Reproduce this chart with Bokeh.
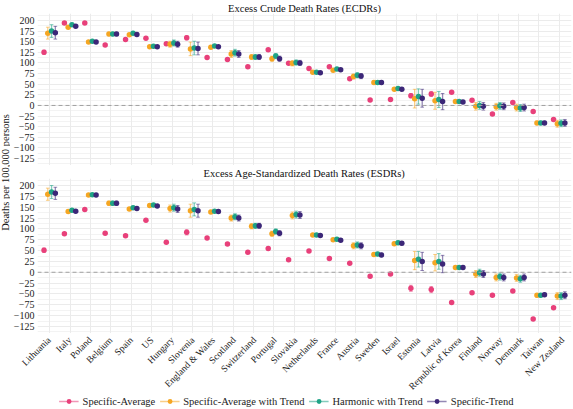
import math
from bokeh.plotting import figure
from bokeh.models import Range1d, FixedTicker, ColumnDataSource, Legend, LegendItem, Span, Grid
from bokeh.layouts import row, column
from bokeh.embed import file_html
from bokeh.resources import INLINE
from bokeh.core.properties import value

countries = ["Lithuania", "Italy", "Poland", "Belgium", "Spain", "US", "Hungary", "Slovenia",
             "England & Wales", "Scotland", "Switzerland", "Portugal", "Slovakia", "Netherlands",
             "France", "Austria", "Sweden", "Israel", "Estonia", "Latvia", "Republic of Korea",
             "Finland", "Norway", "Denmark", "Taiwan", "New Zealand"]

series_names = ["Specific-Average", "Specific-Average with Trend", "Harmonic with Trend", "Specific-Trend"]

# Excess Crude Death Rates (points and half-widths of intervals)
ecdr_sa = [125, 194, 194, 142, 155, 158, 145, 159, 113, 108, 91, 131, 99, 87, 91, 63, 13, 14, 23, 27, 31, 12, -20, 7, -14, -33]
ecdr_sat = [170, 184, 149, 168, 166, 138, 144, 133, 137, 121, 114, 110, 99, 78, 83, 68, 54, 38, 16, 11, 9, -2, -3, -5, -41, -43]
ecdr_ht = [175, 190, 151, 168, 170, 139, 147, 135, 140, 124, 114, 116, 101, 78, 86, 71, 54, 40, 21, 14, 9, 0, -1, -6, -41, -42]
ecdr_st = [171, 186, 149, 168, 167, 138, 144, 134, 138, 121, 114, 110, 100, 77, 84, 69, 54, 38, 17, 9, 8, -2, -2, -5, -41, -41]
ecdr_sa_err = [5, 2, 2, 2, 2, 2, 3, 5, 2, 2, 2, 3, 2, 2, 2, 2, 2, 2, 5, 6, 2, 2, 2, 2, 2, 2]
ecdr_sat_err = [14, 3, 3, 4, 3, 3, 7, 16, 3, 8, 6, 6, 6, 3, 3, 6, 4, 3, 22, 20, 3, 9, 8, 8, 4, 8]
ecdr_ht_err = [15, 3, 3, 4, 3, 3, 7, 16, 3, 8, 6, 6, 6, 3, 3, 6, 4, 3, 18, 19, 3, 9, 8, 8, 4, 8]
ecdr_st_err = [15, 3, 3, 4, 3, 3, 7, 15, 3, 8, 6, 6, 6, 3, 3, 6, 4, 3, 21, 19, 3, 9, 8, 8, 4, 8]

# Excess Age-Standardized Death Rates
esdr_sa = [51, 89, 145, 90, 84, 120, 69, 92, 79, 65, 46, 55, 29, 49, 32, 21, -9, -4, -37, -40, -70, -47, -53, -43, -108, -82]
esdr_sat = [180, 140, 178, 159, 146, 154, 147, 142, 139, 125, 106, 89, 131, 86, 75, 61, 41, 66, 27, 22, 11, -4, -12, -13, -53, -55]
esdr_ht = [185, 143, 179, 159, 149, 155, 149, 145, 141, 128, 107, 94, 133, 86, 76, 63, 42, 68, 30, 25, 11, -1, -10, -15, -53, -55]
esdr_st = [182, 141, 178, 159, 147, 153, 146, 142, 140, 125, 107, 90, 132, 85, 74, 61, 40, 67, 25, 19, 11, -4, -12, -12, -52, -53]
esdr_sa_err = [5, 2, 2, 2, 2, 2, 2, 6, 2, 2, 2, 3, 2, 2, 2, 2, 2, 2, 7, 7, 2, 2, 2, 2, 2, 2]
esdr_sat_err = [14, 3, 3, 5, 3, 3, 8, 15, 3, 7, 6, 6, 8, 3, 3, 7, 4, 4, 21, 19, 3, 8, 8, 8, 4, 8]
esdr_ht_err = [15, 3, 3, 5, 3, 3, 8, 15, 3, 7, 6, 6, 8, 3, 3, 7, 4, 4, 18, 18, 3, 8, 8, 8, 4, 8]
esdr_st_err = [14, 3, 3, 5, 3, 3, 8, 15, 3, 7, 6, 6, 8, 3, 3, 7, 4, 4, 21, 20, 3, 8, 8, 8, 4, 8]

y_ticks = list(range(-125, 201, 25))
titles = ["Excess Crude Death Rates (ECDRs)", "Excess Age-Standardized Death Rates (ESDRs)"]
y_label = "Deaths per 100,000 persons"

COLORS = ["#E8407A", "#F5A623", "#1FA386", "#3C2778"]
DODGE = [-0.28, -0.095, 0.09, 0.275]
CAP = 0.09
FONT = "Liberation Serif"
FS = "10.5px"
TICK_FS = "10px"
CAT_FS = "9.5px"
N = len(countries)
X0, X1 = 0.4, N + 0.6
Y0, Y1 = -141.25, 216.25
W, YL_W = 562, 10
L_B, R_B = 23, 1
TOP_H, BOT_H, LAB_H, LEG_H = 165, 168, 60, 16


def bare(width, height, xr, yr):
    f = figure(width=width, height=height, x_range=xr, y_range=yr, toolbar_location=None,
               output_backend="svg", min_border=0, x_axis_location=None, y_axis_location=None)
    f.outline_line_color = None
    f.grid.visible = False
    return f


def make_panel(title, vals, errs, height):
    p = figure(width=W, height=height, x_range=Range1d(X0, X1),
               y_range=Range1d(Y0, Y1), toolbar_location=None,
               output_backend="svg", min_border_left=L_B, min_border_right=R_B,
               min_border_top=0, min_border_bottom=0, x_axis_location=None)
    p.outline_line_color = None
    p.title.text = title
    p.title.align = "center"
    p.title.text_font = FONT
    p.title.text_font_size = FS
    p.title.text_font_style = "normal"
    p.title.text_color = "#111111"
    p.title.standoff = 0
    xt = FixedTicker(ticks=list(range(1, N + 1)))
    p.add_layout(Grid(dimension=0, ticker=xt, grid_line_color="#EBEBEB"))
    yt = FixedTicker(ticks=y_ticks, minor_ticks=[t + 12.5 for t in y_ticks[:-1]] + [Y0 + 3.75, Y1 - 3.75])
    p.yaxis.ticker = yt
    p.ygrid.ticker = yt
    p.yaxis.major_label_text_font = FONT
    p.yaxis.major_label_text_font_size = TICK_FS
    p.yaxis.major_label_text_color = "#222222"
    p.yaxis.major_label_standoff = 3
    p.yaxis.major_tick_out = 0
    p.yaxis.major_tick_in = 0
    p.yaxis.minor_tick_out = 0
    p.yaxis.minor_tick_in = 0
    p.yaxis.axis_line_color = None
    p.yaxis.major_tick_line_color = None
    p.yaxis.minor_tick_line_color = None
    p.ygrid.grid_line_color = "#EBEBEB"
    p.ygrid.minor_grid_line_color = "#F3F3F3"
    p.add_layout(Span(location=0, dimension="width", line_color="#A0A0A0",
                      line_dash="4 3", line_width=1))
    for k in range(4):
        xs = [i + 1 + DODGE[k] for i in range(N)]
        lo = [v - e for v, e in zip(vals[k], errs[k])]
        hi = [v + e for v, e in zip(vals[k], errs[k])]
        src = ColumnDataSource(dict(x=xs, xl=[x - CAP for x in xs], xr=[x + CAP for x in xs],
                                    y=vals[k], lo=lo, hi=hi))
        p.segment(x0="x", y0="lo", x1="x", y1="hi", source=src,
                  line_color=COLORS[k], line_alpha=0.55, line_width=1.3)
        p.segment(x0="xl", y0="lo", x1="xr", y1="lo", source=src,
                  line_color=COLORS[k], line_alpha=0.55, line_width=1)
        p.segment(x0="xl", y0="hi", x1="xr", y1="hi", source=src,
                  line_color=COLORS[k], line_alpha=0.55, line_width=1)
        p.scatter(x="x", y="y", source=src, size=5.5, fill_color=COLORS[k], line_color=None)
    return p


top = make_panel(titles[0], [ecdr_sa, ecdr_sat, ecdr_ht, ecdr_st],
                 [ecdr_sa_err, ecdr_sat_err, ecdr_ht_err, ecdr_st_err], TOP_H)
bot = make_panel(titles[1], [esdr_sa, esdr_sat, esdr_ht, esdr_st],
                 [esdr_sa_err, esdr_sat_err, esdr_ht_err, esdr_st_err], BOT_H)

# category labels strip spanning the whole width, on the same x scale as the panels
FULL_W = W + YL_W
fw = W - L_B - R_B
ppu = (X1 - X0) / fw
left_px = YL_W + L_B
lab = bare(FULL_W, LAB_H, Range1d(X0 - left_px * ppu, X1 + R_B * ppu), Range1d(0, LAB_H))
lab.text(x=list(range(1, N + 1)), y=[LAB_H - 1.5] * N, text=countries, angle=math.pi / 4,
         text_align="right", text_baseline="top", text_font=value(FONT),
         text_font_size=CAT_FS, text_color="#222222")

# legend strip
lf = bare(FULL_W, LEG_H, Range1d(0, 1), Range1d(0, 1))
items = []
for k in range(4):
    s = ColumnDataSource(dict(x=[-5.0, -4.0], y=[-5.0, -5.0]))
    ln = lf.line(x="x", y="y", source=s, line_color=COLORS[k], line_alpha=0.55, line_width=1.3)
    pt = lf.scatter(x="x", y="y", source=s, size=5.5, fill_color=COLORS[k], line_color=None)
    items.append(LegendItem(label=series_names[k], renderers=[ln, pt]))
lg = Legend(items=items, orientation="horizontal", location="center",
            label_text_font=FONT, label_text_font_size=FS,
            label_text_color="#222222", glyph_width=20, glyph_height=12,
            spacing=4, label_standoff=4, border_line_color=None,
            background_fill_alpha=0, padding=0, margin=0)
lf.add_layout(lg)

TOT = TOP_H + BOT_H
yl = bare(YL_W, TOT, Range1d(0, 1), Range1d(0, TOT))
yl.text(x=[0.45], y=[TOT - 172], text=[y_label], angle=math.pi / 2, text_align="center",
        text_baseline="middle", text_font=value(FONT), text_font_size=FS,
        text_color="#111111")

layout = column(row(yl, column(top, bot)), lab, lf)
open("out.html", "w").write(file_html(layout, INLINE))
